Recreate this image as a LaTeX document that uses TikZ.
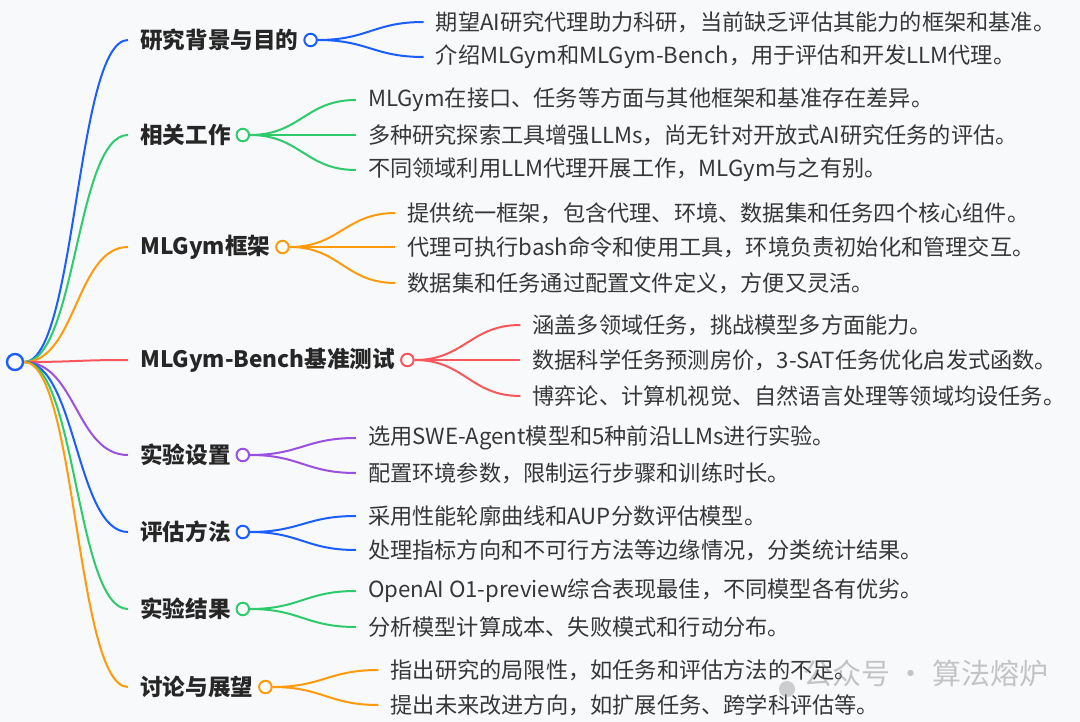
\documentclass[tikz,border=0pt]{standalone}
\usepackage{fontspec}
\setmainfont{Noto Sans CJK SC}
\usetikzlibrary{positioning,calc}
\definecolor{mblue}{HTML}{1B5EFF}
\definecolor{mgreen}{HTML}{2DCB6C}
\definecolor{morange}{HTML}{FF9A0A}
\definecolor{mred}{HTML}{F8575C}
\definecolor{mpurple}{HTML}{9B51E0}
\definecolor{ink}{HTML}{262626}
\definecolor{paper}{HTML}{F8F9FB}

\begin{document}
\begin{tikzpicture}[x=1pt,y=-1pt,
  cat/.style={anchor=west,inner xsep=12pt,inner ysep=0pt,font=\bfseries\fontsize{22.6}{26}\selectfont,text=ink},
  leaf/.style={anchor=west,inner xsep=12pt,inner ysep=0pt,font=\fontsize{22.2}{26}\selectfont,text=ink!92},
  knob/.style={circle,draw=#1,fill=white,line width=2pt,minimum size=12.5pt,inner sep=0pt},
  link/.style={draw=#1,line width=2pt}]
 \fill[paper] (0,0) rectangle (1080,722);
 \useasboundingbox (0,0) rectangle (1080,722);
 \node[knob=mblue,minimum size=16pt,line width=2.4pt] (root) at (15,362) {};
 % categories
 \node[cat] (c1) at (128,40) {研究背景与目的};
 \node[cat] (c2) at (128,135) {相关工作};
 \node[cat] (c3) at (128,247) {MLGym框架};
 \node[cat] (c4) at (128,360) {MLGym-Bench基准测试};
 \node[cat] (c5) at (128,455) {实验设置};
 \node[cat] (c6) at (128,532) {评估方法};
 \node[cat] (c7) at (128,609) {实验结果};
 \node[cat] (c8) at (128,687) {讨论与展望};
 \node[knob=mblue] (k1) at (c1.east) {};
 \node[knob=mgreen] (k2) at (c2.east) {};
 \node[knob=morange] (k3) at (c3.east) {};
 \node[knob=mred] (k4) at (c4.east) {};
 \node[knob=mpurple] (k5) at (c5.east) {};
 \node[knob=mblue] (k6) at (c6.east) {};
 \node[knob=mgreen] (k7) at (c7.east) {};
 \node[knob=morange] (k8) at (c8.east) {};
 % leaves
 \node[leaf] (l11) at ($(k1)+(113,-18)$) {期望AI研究代理助力科研，当前缺乏评估其能力的框架和基准。};
 \node[leaf] (l12) at ($(k1)+(113,17)$) {介绍MLGym和MLGym-Bench，用于评估和开发LLM代理。};
 \node[leaf] (l21) at ($(k2)+(113,-35)$) {MLGym在接口、任务等方面与其他框架和基准存在差异。};
 \node[leaf] (l22) at ($(k2)+(113,0)$) {多种研究探索工具增强LLMs，尚无针对开放式AI研究任务的评估。};
 \node[leaf] (l23) at ($(k2)+(113,35)$) {不同领域利用LLM代理开展工作，MLGym与之有别。};
 \node[leaf] (l31) at ($(k3)+(113,-34)$) {提供统一框架，包含代理、环境、数据集和任务四个核心组件。};
 \node[leaf] (l32) at ($(k3)+(113,0)$) {代理可执行bash命令和使用工具，环境负责初始化和管理交互。};
 \node[leaf] (l33) at ($(k3)+(113,36)$) {数据集和任务通过配置文件定义，方便又灵活。};
 \node[leaf] (l41) at ($(k4)+(113,-35)$) {涵盖多领域任务，挑战模型多方面能力。};
 \node[leaf] (l42) at ($(k4)+(113,0)$) {数据科学任务预测房价，3-SAT任务优化启发式函数。};
 \node[leaf] (l43) at ($(k4)+(113,36)$) {博弈论、计算机视觉、自然语言处理等领域均设任务。};
 \node[leaf] (l51) at ($(k5)+(113,-17)$) {选用SWE-Agent模型和5种前沿LLMs进行实验。};
 \node[leaf] (l52) at ($(k5)+(113,18)$) {配置环境参数，限制运行步骤和训练时长。};
 \node[leaf] (l61) at ($(k6)+(113,-16)$) {采用性能轮廓曲线和AUP分数评估模型。};
 \node[leaf] (l62) at ($(k6)+(113,18)$) {处理指标方向和不可行方法等边缘情况，分类统计结果。};
 \node[leaf] (l71) at ($(k7)+(113,-18)$) {OpenAI O1-preview综合表现最佳，不同模型各有优劣。};
 \node[leaf] (l72) at ($(k7)+(113,18)$) {分析模型计算成本、失败模式和行动分布。};
 \node[leaf] (l81) at ($(k8)+(113,-17)$) {指出研究的局限性，如任务和评估方法的不足。};
 \node[leaf] (l82) at ($(k8)+(113,18)$) {提出未来改进方向，如扩展任务、跨学科评估等。};
 % links
 \foreach \c/\col in {c1/mblue,c2/mgreen,c3/morange,c4/mred,c5/mpurple,c6/mblue,c7/mgreen,c8/morange}
  \draw[link=\col] (root.east) .. controls +(52,0) and +(-52,0) .. (\c.west);
 \foreach \k/\l/\col in {k1/l11/mblue,k1/l12/mblue,k2/l21/mgreen,k2/l22/mgreen,k2/l23/mgreen,
   k3/l31/morange,k3/l32/morange,k3/l33/morange,k4/l41/mred,k4/l42/mred,k4/l43/mred,
   k5/l51/mpurple,k5/l52/mpurple,k6/l61/mblue,k6/l62/mblue,k7/l71/mgreen,k7/l72/mgreen,
   k8/l81/morange,k8/l82/morange}
  \draw[link=\col] (\k.east) .. controls +(50,0) and +(-50,0) .. (\l.west);
 % watermark
 \begin{scope}[opacity=0.4]
  \fill[black!45] (787,689) circle (8);
  \node[anchor=west,inner sep=0pt,font=\fontsize{29}{32}\selectfont,text=black!55] (wm) at (803,673) {公众号 · 算法熔炉};
 \end{scope}
\end{tikzpicture}
\end{document}
